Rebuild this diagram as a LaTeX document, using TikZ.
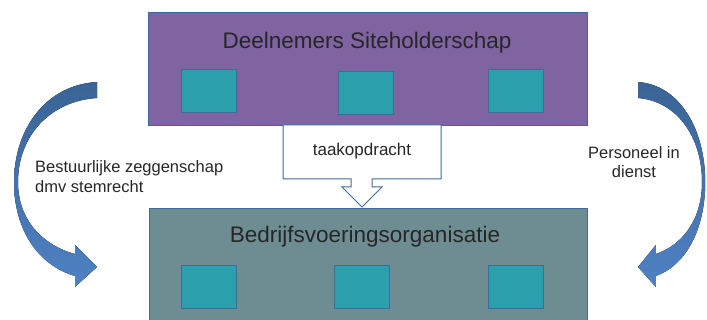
\documentclass[tikz,border=0pt]{standalone}
\usepackage{fontspec}
\setmainfont{Liberation Sans}
\definecolor{purplebox}{HTML}{8064A2}
\definecolor{greybox}{HTML}{6E8D92}
\definecolor{tealsq}{HTML}{2C9FAD}
\definecolor{edgeblue}{HTML}{3F6A9C}
\definecolor{arrtop}{HTML}{3A6496}
\definecolor{arrbot}{HTML}{4F81C4}
\begin{document}
\begin{tikzpicture}[x=1pt,y=-1pt,
  bigbox/.style={draw=edgeblue,line width=1pt,rectangle,inner sep=0pt},
  sq/.style={draw=edgeblue,line width=1pt,fill=tealsq,minimum width=55pt,minimum height=43pt,inner sep=0pt},
  lbl/.style={inner sep=0pt,text=black!85},
  curvedarr/.style={top color=arrtop,bottom color=arrbot,draw=none}]
\useasboundingbox (0,0) rectangle (707,320);
\clip (0,0) rectangle (707,320);
% boxes
\node[bigbox,fill=purplebox,minimum width=439pt,minimum height=113pt,anchor=north west] (top) at (148,12) {};
\node[bigbox,fill=greybox,minimum width=438pt,minimum height=130pt,anchor=north west] (bot) at (149,208) {};
\node[lbl,font=\fontsize{22.5}{26}\selectfont] (toptxt) at (367,43) {Deelnemers Siteholderschap};
\node[lbl,font=\fontsize{22.5}{26}\selectfont] (bottxt) at (365,237) {Bedrijfsvoeringsorganisatie};
% squares
\node[sq] (t1) at (208.5,91.5) {};
\node[sq] (t2) at (365.5,93) {};
\node[sq] (t3) at (515.5,91.5) {};
\node[sq] (b1) at (208.5,287.5) {};
\node[sq] (b2) at (362,287.5) {};
\node[sq] (b3) at (515.5,287.5) {};
% callout
\coordinate (ctip) at (362,207);
\draw[draw=edgeblue,line width=1pt,fill=white]
  (283,125) -- (441,125) -- (441,179) -- (372,179) -- (372,187) -- (382,187)
  -- (ctip) -- (342,187) -- (351,187) -- (351,179) -- (283,179) -- cycle;
\node[lbl,font=\fontsize{17}{20}\selectfont] (call) at (362,151) {taakopdracht};
% left curved arrow
\fill[curvedarr] (97,82) .. controls (45,85) and (14,130) .. (14,182)
  .. controls (14,232) and (40,266) .. (75,276) -- (75,287) -- (97,267) -- (75,245) -- (75,254)
  .. controls (45,246) and (18,222) .. (18,182)
  .. controls (18,136) and (50,101) .. (97,98) -- cycle;
% right curved arrow
\begin{scope}[shift={(638,0)},xscale=-0.81]
\fill[curvedarr] (0,82) .. controls (-52,85) and (-83,130) .. (-83,182)
  .. controls (-83,232) and (-57,266) .. (-22,276) -- (-22,287) -- (0,267) -- (-22,245) -- (-22,254)
  .. controls (-52,246) and (-79,222) .. (-79,182)
  .. controls (-79,136) and (-47,101) .. (0,98) -- cycle;
\end{scope}
\node[lbl,font=\fontsize{16.5}{19.5}\selectfont,align=left,anchor=west] (ltxt) at (35,176.5) {Bestuurlijke zeggenschap\\dmv stemrecht};
\node[lbl,font=\fontsize{16.5}{19.5}\selectfont,align=center] (rtxt) at (634,162) {Personeel in\\dienst};
\end{tikzpicture}
\end{document}
